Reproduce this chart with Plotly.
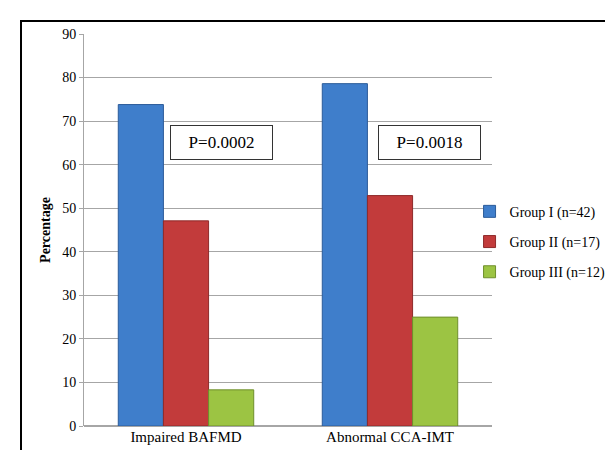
import plotly.graph_objects as go

categories = ["Impaired BAFMD", "Abnormal CCA-IMT"]
group_names = ["Group I (n=42)", "Group II (n=17)", "Group III (n=12)"]
group1 = [73.8, 78.6]
group2 = [47.1, 52.9]
group3 = [8.3, 25.0]
p_labels = ["P=0.0002", "P=0.0018"]
y_ticks = [0, 10, 20, 30, 40, 50, 60, 70, 80, 90]

colors = ["#3f7ecb", "#c23b3b", "#9cc443"]
edge_colors = ["#2c5c9a", "#8e2a2a", "#6f8f2c"]
series = [group1, group2, group3]

FONT = "Liberation Serif"

fig = go.Figure()
for i, (name, vals) in enumerate(zip(group_names, series)):
    fig.add_trace(go.Bar(
        x=categories, y=vals, name=name,
        marker=dict(color=colors[i], line=dict(color=edge_colors[i], width=1)),
        legendgroup=f"g{i}",
    ))

annotations = []
for xp, lab in zip([0.337, 0.8456], p_labels):
    annotations.append(dict(
        x=xp, xref="paper", y=65.1, yref="y", text=lab, showarrow=False,
        font=dict(family=FONT, size=17, color="black"),
        bordercolor="#333333", borderwidth=1, borderpad=2,
        width=97, height=29, bgcolor="white", xanchor="center", yanchor="middle",
    ))

fig.update_layout(
    width=613, height=450,
    margin=dict(l=76, r=129, t=26, b=32, autoexpand=False),
    paper_bgcolor="white", plot_bgcolor="white",
    barmode="group", bargap=0.336, bargroupgap=0,
    font=dict(family=FONT, size=14, color="black"),
    legend=dict(x=0.945, y=0.47, xanchor="left", yanchor="middle",
                font=dict(family=FONT, size=14, color="black"),
                tracegroupgap=9, itemwidth=30, bgcolor="rgba(0,0,0,0)"),
    annotations=annotations,
    shapes=[dict(type="rect", xref="paper", yref="paper",
                 x0=-0.1544, x1=1.4, y0=-0.2, y1=1.0332,
                 line=dict(color="black", width=2), layer="above")],
    xaxis=dict(showgrid=False, showline=False, ticks="",
               tickfont=dict(family=FONT, size=15, color="black")),
    yaxis=dict(range=[0, 90], tickvals=y_ticks, showgrid=True, gridcolor="#a6a6a6",
               gridwidth=1, showline=True, linecolor="#a6a6a6", linewidth=1,
               ticks="outside", ticklen=4, tickcolor="#a6a6a6", zeroline=True,
               zerolinecolor="#a6a6a6",
               tickfont=dict(family=FONT, size=14, color="black"),
               title=dict(text="<b>Percentage</b>", standoff=8,
                          font=dict(family=FONT, size=14, color="black"))),
)

fig.write_html("out.html")
